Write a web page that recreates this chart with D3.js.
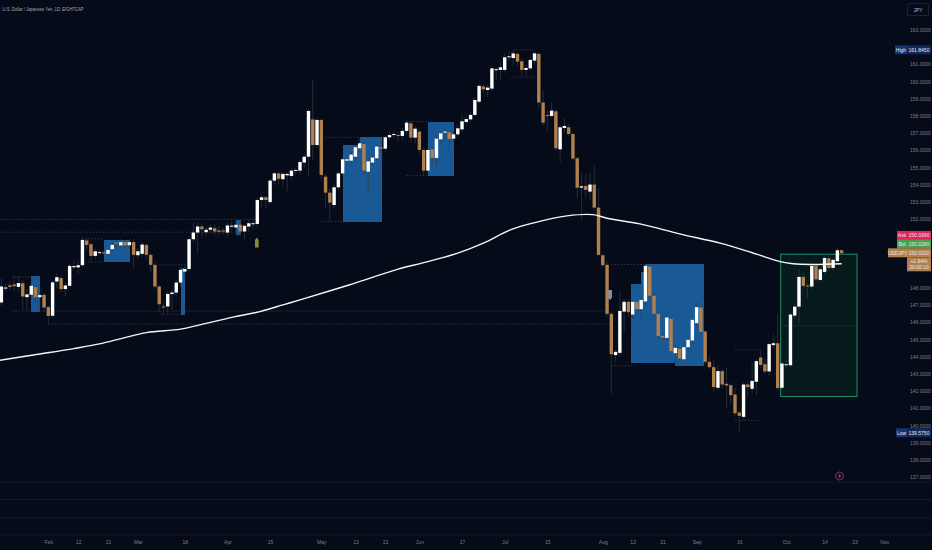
<!DOCTYPE html>
<html>
<head>
<meta charset="utf-8">
<style>
html, body { margin: 0; padding: 0; background: #060b19; }
svg { display: block; }
text { font-family: "Liberation Sans", sans-serif; }
.axis text { fill: #7d808b; font-size: 5px; }
</style>
</head>
<body>
<svg id="chart" width="932" height="550"></svg>
<script src="https://d3js.org/d3.v7.min.js"></script>
<script>

// daily candles
var opens = [
147.15,147.98,148.15,148.2,148.06,148.27,147.46,147.6,148.04,147.46,
147.6,146.88,146.38,148.37,148.57,147.93,148.12,149.2,149.19,149.32,
150.76,150.54,149.86,150.03,150.06,149.98,150.25,150.63,150.47,150.66,
150.48,150.66,149.9,149.98,150.5,149.92,149.34,148.08,146.92,146.92,
147.64,147.73,148.31,148.95,149.1,150.83,151.22,151.57,151.24,151.38,
151.47,151.34,151.34,151.22,151.6,151.51,151.67,151.28,151.57,151.73,
151.72,153.11,153.27,152.99,154.24,154.66,154.32,154.55,154.51,154.82,
154.82,155.29,155.63,157.8,156.31,157.77,154.47,153.54,152.82,153.85,
154.66,155.4,155.4,155.63,156.12,156.37,154.76,155.29,155.54,156.18,
156.1,156.76,156.89,156.89,156.84,157.13,157.57,156.74,157.09,156.02,
154.82,156.06,155.56,156.64,157.03,157.05,156.68,156.93,157.22,157.65,
157.8,158.06,158.83,159.71,159.51,159.59,160.7,160.68,160.68,161.45,
161.37,161.61,161.18,160.68,160.77,161.22,161.61,158.78,158.05,158,
158.27,156.06,157.3,157.34,156.95,155.54,153.83,153.93,153.6,154.01,
152.67,149.9,149.34,146.49,144.09,144.22,146.62,147.19,146.45,147.19,
146.76,147.21,149.24,147.54,146.49,145.21,145.09,146.2,144.2,144.47,
143.85,144.55,144.94,145.95,146.86,145.46,143.7,143.39,142.19,143.16,
142.42,142.34,141.8,140.75,140.5,142.38,142.13,142.54,143.95,143.56,
143.14,144.67,144.78,142.19,143.55,143.5,146.39,146.91,148.64,148.14,
148.08,149.28,148.46,148.93,149.72,149.16,149.55,150.19];
var closes = [
148.08,148.02,148.05,148.1,148.28,147.5,147.62,148.12,147.46,147.58,
146.86,146.37,148.32,148.62,147.93,148.14,149.28,149.27,149.32,150.79,
150.5,149.86,150.13,150.08,150.04,150.21,150.5,150.6,150.66,150.47,
150.66,149.92,150.13,150.52,149.92,149.34,148.08,147.05,146.9,147.65,
147.73,148.31,149.05,149.1,150.83,151.22,151.57,151.41,151.38,151.51,
151.28,151.26,151.28,151.63,151.62,151.67,151.28,151.61,151.76,151.76,
153.11,153.27,153.11,154.24,154.66,154.35,154.63,154.63,154.82,154.86,
155.32,155.63,158.29,156.31,157.77,154.57,153.54,152.96,153.85,154.66,
155.48,155.48,155.75,156.18,156.41,154.82,155.36,155.58,156.22,156.1,
156.76,156.89,156.95,156.86,157.13,157.61,156.74,157.26,156.02,154.82,
156.02,155.56,156.68,156.99,157.09,156.66,156.93,157.28,157.69,157.82,
158.06,158.93,159.75,159.55,159.65,160.77,160.72,160.83,161.41,161.47,
161.64,161.16,160.68,160.79,161.26,161.64,158.78,157.61,158.02,158.31,
156.12,157.34,157.42,156.95,155.52,153.83,153.91,153.7,154.01,152.67,
149.92,149.32,146.49,144.14,144.28,146.66,147.19,146.59,147.19,146.76,
147.3,149.28,147.54,146.49,145.21,145.11,146.28,144.32,144.51,143.89,
144.55,144.98,146.14,146.88,145.44,143.7,143.39,142.23,143.16,142.38,
142.32,141.76,140.71,140.56,142.38,142.23,142.59,143.74,143.52,143.14,
144.73,144.78,142.17,143.6,143.56,146.45,146.91,148.64,148.12,148.12,
149.28,148.5,149.08,149.74,149.16,149.63,150.19,150.02];
var highs = [
148.55,148.25,148.4,148.7,148.7,148.45,147.9,148.2,148.2,147.8,
147.7,147,148.4,148.9,148.75,148.3,149.4,149.6,149.6,150.95,
150.9,150.65,150.3,150.2,150.2,150.3,150.7,150.8,150.85,150.8,
150.85,150.85,150.3,150.65,150.6,150.05,149.5,148.2,147.15,147.8,
147.9,148.45,149.15,149.4,151,151.8,151.8,151.75,151.6,151.7,
151.7,151.6,151.5,151.8,151.85,151.9,151.85,151.7,151.95,151.9,
153.25,153.4,153.35,154.35,154.75,154.75,154.75,154.7,154.95,155,
155.45,155.75,158.4,160.1,157.9,157.85,154.6,153.8,154,154.8,
155.6,155.7,155.95,156.3,156.75,156.5,155.5,155.7,156.35,156.3,
156.85,157.1,157.15,157.05,157.3,157.75,157.7,157.4,157.25,156.15,
156.2,156.2,156.85,157.15,157.25,157.15,157.1,157.5,158.1,157.95,
158.25,159.1,159.85,159.85,159.8,160.85,160.85,161.2,161.65,161.8,
161.85,161.7,161.35,160.95,161.35,161.75,161.7,159.5,158.3,158.8,
158.4,157.45,157.9,157.55,157.05,155.65,154.7,154.6,154.7,155.1,
153.8,150.05,149.5,146.6,144.4,147.8,147.35,147.3,147.25,147.25,
147.4,149.4,149.35,147.7,146.6,145.35,146.4,146.3,144.65,144.55,
144.7,145.1,146.2,147.2,146.95,145.55,144.05,143.8,143.5,143.3,
143.4,142.5,142.2,140.9,142.5,142.6,143.7,143.85,144.4,143.85,
144.85,145.3,146.5,143.7,143.9,146.6,147.1,149.1,148.9,148.3,
149.4,149.35,149.2,149.85,149.9,149.75,150.3,150.25];
var lows = [
146.95,147.8,147.9,147.8,147.8,146.7,146.7,147.4,147.1,146.8,
146.6,145.9,146.25,148,147.75,147.5,148,149,148.8,149.2,
150.2,149.6,149.7,149.9,149.9,149.85,150.1,150.35,150.3,150.3,
150.3,149.1,149.7,149.8,149.7,148.9,147.9,146.6,146.45,146.5,
146.7,147.5,148.05,148.7,148.95,150.65,150,150.9,151,151.15,
151.05,151.05,151.1,151,151.35,151.2,151.05,150.83,151.25,151.4,
151.55,152.7,152.6,152.85,154,154,153.9,153.6,154.3,154.6,
154.6,155,154.5,155.4,156.1,154.2,152.6,151.9,152.6,153.7,
154.55,155.2,155.2,155.35,155.9,154.6,153.6,155.1,155.4,155.9,
155.9,156.6,156.7,156.55,156.55,156.9,156.5,156.4,155.8,154.55,
154.6,155.2,155.1,156.4,156.6,156,156.5,156.75,157,157.45,
157.6,157.95,158.7,159.3,159.1,159.45,160.1,160.1,160.5,161.2,
160.95,160.9,160.25,160.3,160.6,161.05,158.4,157.4,157.1,157.9,
156,155.3,157,156.8,155.4,153.2,151.95,153.2,153.1,152.55,
149.8,149.15,146.3,141.8,143.7,144,145.4,146.3,146.2,146.6,
146.2,146.95,147.35,146.3,145.05,144.95,144.9,144.15,143.5,143.7,
143.7,144.4,144.75,145.7,145.3,143.55,143.25,141.9,142,142.15,
141,141.3,140.55,139.65,140.35,141.7,141.85,141.75,143.35,143,
142.9,144.5,142,142.05,143.3,143.4,146.2,145.95,147.9,147.4,
147.9,148.4,148.35,148.8,149,149,149.45,149.95];

// 200 day average
var maBars = [-1,7.5,17,23,28.5,34,42,46.5,54.3,60.6,66,70,81.5,93,99,107,113,119.3,124.6,132.6,138.7,142,149.7,159,168.5,176.2,182.6,185.6,190,197];
var maValues = [143.76,144.1,144.47,144.74,145.08,145.4,145.6,145.85,146.3,146.62,147.01,147.3,148.17,149.09,149.47,150.02,150.6,151.37,151.77,152.19,152.26,152.05,151.72,151.14,150.6,150.03,149.53,149.4,149.36,149.4];

// blue zones
var zoneStart = [7,24,42,55,80,84,100,147.7,150,151,158];
var zoneEnd = [9,30,43,56,84,89,106,150,151,158,164.6];
var zoneTop = [148.7,150.8,149.18,151.95,156.31,156.76,157.67,148.22,148.9,149.38,149.38];
var zoneBottom = [146.6,149.5,146.43,151.08,151.86,151.86,154.53,143.63,143.63,143.63,143.47];

// dotted levels
var levelStart = [-1,-1,2.5,11,37,37,19.5,19.5,75,75,95,95,120,120,143,143,172,172,2.5,182.7];
var levelEnd = [60,55,142.7,143,43,42,24,24,84,80,100,100,125,125,151,148,178,178,7,200.6];
var levelPrice = [151.99,151.24,146.65,145.89,149.34,146.47,150.85,149.5,156.76,151.86,157.67,154.53,161.84,160.25,149.36,143.47,144.4,140.28,148.63,145.8];

var priceTicks = [163,161,160,159,158,157,156,155,154,153,152,148,147,146,145,144,143,142,141,140,139,138,137];
var dateBars = [11,18,25,32,43,53,63,75,83,90,98,108,118,128,141,148,155,163,173,184,193,200,207];
var dateLabels = ["Feb","12","21","Mar","18","Apr","15","May","13","21","Jun","17","Jul","15","Aug","12","21","Sep","16","Oct","14","23","Nov"];

var paneLines = [482,499.5,518,535];

var svg = d3.select("#chart");
var x = d3.scaleLinear().domain([0, 207]).range([1.4, 884.3]);
var y = d3.scaleLinear().domain([163, 137]).range([30, 477]);

var upColor = "#ffffff", downColor = "#b0804f", wickColor = "#353943";
var bodyWidth = 3.4;

svg.append("rect").attr("width", 932).attr("height", 550).attr("fill", "#060b19");

// pane separators near the bottom
svg.selectAll(".pane").data(paneLines).enter().append("line")
  .attr("x1", 0).attr("x2", 932)
  .attr("y1", function(d){ return d; }).attr("y2", function(d){ return d; })
  .attr("stroke", "#1b1f2c").attr("stroke-width", 0.8);

// zones
svg.selectAll(".zone").data(zoneStart).enter().append("rect")
  .attr("x", function(d){ return x(d); })
  .attr("width", function(d,i){ return x(zoneEnd[i]) - x(d) + 0.5; })
  .attr("y", function(d,i){ return y(zoneTop[i]); })
  .attr("height", function(d,i){ return y(zoneBottom[i]) - y(zoneTop[i]); })
  .attr("fill", "#195a96")
  .attr("shape-rendering", "crispEdges");

// long position box
svg.append("rect")
  .attr("x", x(182.7)).attr("width", x(200.6) - x(182.7))
  .attr("y", y(149.96)).attr("height", y(141.68) - y(149.96))
  .attr("fill", "#061a1c").attr("stroke", "#1f8f6a").attr("stroke-width", 1);

svg.selectAll(".level").data(levelStart).enter().append("line")
  .attr("x1", function(d){ return x(d); })
  .attr("x2", function(d,i){ return x(levelEnd[i]); })
  .attr("y1", function(d,i){ return y(levelPrice[i]); })
  .attr("y2", function(d,i){ return y(levelPrice[i]); })
  .attr("stroke", "#3d424f").attr("stroke-width", 0.7).attr("stroke-dasharray", "1.6 1.6");

// candles
svg.selectAll(".wick").data(opens).enter().append("line")
  .attr("x1", function(d,i){ return x(i); })
  .attr("x2", function(d,i){ return x(i); })
  .attr("y1", function(d,i){ return y(highs[i]); })
  .attr("y2", function(d,i){ return y(lows[i]); })
  .attr("stroke", wickColor).attr("stroke-width", 0.7);

svg.selectAll(".body").data(opens).enter().append("rect")
  .attr("x", function(d,i){ return x(i) - bodyWidth / 2; })
  .attr("width", bodyWidth)
  .attr("y", function(d,i){ return y(Math.max(d, closes[i])); })
  .attr("height", function(d,i){ return Math.max(1, Math.abs(y(d) - y(closes[i]))); })
  .attr("fill", function(d,i){ return closes[i] >= d ? upColor : downColor; });

// moving average
var line = d3.line()
  .x(function(d){ return x(d); })
  .y(function(d,i){ return y(maValues[i]); })
  .curve(d3.curveCatmullRom);
svg.append("path").attr("d", line(maBars))
  .attr("fill", "none").attr("stroke", "#f5f6f8").attr("stroke-width", 1.4);

// markers
svg.append("path")
  .attr("d", "M255 247.5V240l1.8-2.5 1.8 2.5v7.5z").attr("fill", "#8c8b3c");
svg.append("path")
  .attr("d", "M608 290h4v7.5l-2 2.5-2-2.5z").attr("fill", "#8b8e96");

// news icon
svg.append("circle").attr("cx", 839.5).attr("cy", 476).attr("r", 4)
  .attr("fill", "#0c0e1c").attr("stroke", "#96306f").attr("stroke-width", 0.9);
svg.append("path").attr("d", "M840.3 473l-2 3.4h1.5l-.6 2.6 2-3.4h-1.5z").attr("fill", "#c04a8c");

// axes
var yAxis = d3.axisRight(y).tickValues(priceTicks).tickFormat(d3.format(".4f")).tickSize(0).tickPadding(0);
var yg = svg.append("g").attr("class", "axis").attr("transform", "translate(910,0)").call(yAxis);
yg.select(".domain").remove();

var xAxis = d3.axisBottom(x).tickValues(dateBars)
  .tickFormat(function(d,i){ return dateLabels[i]; }).tickSize(0).tickPadding(0);
var xg = svg.append("g").attr("class", "axis").attr("transform", "translate(0,540)").call(xAxis);
xg.select(".domain").remove();

// title and currency button
svg.append("text").attr("x", 2.5).attr("y", 11).attr("fill", "#a6a9b3").attr("font-size", 5)
  .attr("textLength", 81).attr("lengthAdjust", "spacingAndGlyphs")
  .text("U.S. Dollar / Japanese Yen, 1D, EIGHTCAP");
svg.append("rect").attr("x", 907.5).attr("y", 3.5).attr("width", 21).attr("height", 12).attr("rx", 1.5)
  .attr("fill", "none").attr("stroke", "#252936").attr("stroke-width", 0.8);
svg.append("text").attr("x", 918).attr("y", 11.5).attr("text-anchor", "middle")
  .attr("fill", "#b5b8c2").attr("font-size", 5).text("JPY");

// price tags on the axis
function tag(name, value, price, color, valueColor, nameX) {
  var cy = y(price);
  svg.append("rect").attr("x", nameX).attr("y", cy - 4.5).attr("width", 907 - nameX).attr("height", 9).attr("fill", color);
  svg.append("rect").attr("x", 907).attr("y", cy - 4.5).attr("width", 24).attr("height", 9).attr("fill", valueColor);
  svg.append("text").attr("x", (nameX + 907) / 2).attr("y", cy + 1.8).attr("text-anchor", "middle")
    .attr("fill", "#e8e9ee").attr("font-size", 5).text(name);
  svg.append("text").attr("x", 919).attr("y", cy + 1.8).attr("text-anchor", "middle")
    .attr("fill", "#e8e9ee").attr("font-size", 5).text(value);
}
tag("High", "161.8450", 161.845, "#16346e", "#12285a", 895);
tag("Low", "139.5750", 139.575, "#16346e", "#12285a", 896);
tag("Ask", "150.0390", 151.05, "#e0245e", "#e0245e", 897);
tag("Bid", "150.0280", 150.55, "#4a9e4e", "#4a9e4e", 897);
tag("USDJPY", "150.0220", 150.04, "#b0804f", "#b0804f", 888);
svg.append("rect").attr("x", 907).attr("y", y(150.04) + 4.5).attr("width", 24).attr("height", 14).attr("fill", "#b0804f");
svg.append("text").attr("x", 919).attr("y", y(150.04) + 10).attr("text-anchor", "middle")
  .attr("fill", "#e8e9ee").attr("font-size", 5).text("+1.94%");
svg.append("text").attr("x", 919).attr("y", y(150.04) + 16.5).attr("text-anchor", "middle")
  .attr("fill", "#e8e9ee").attr("font-size", 5).text("20:00:10");

</script>
</body>
</html>
